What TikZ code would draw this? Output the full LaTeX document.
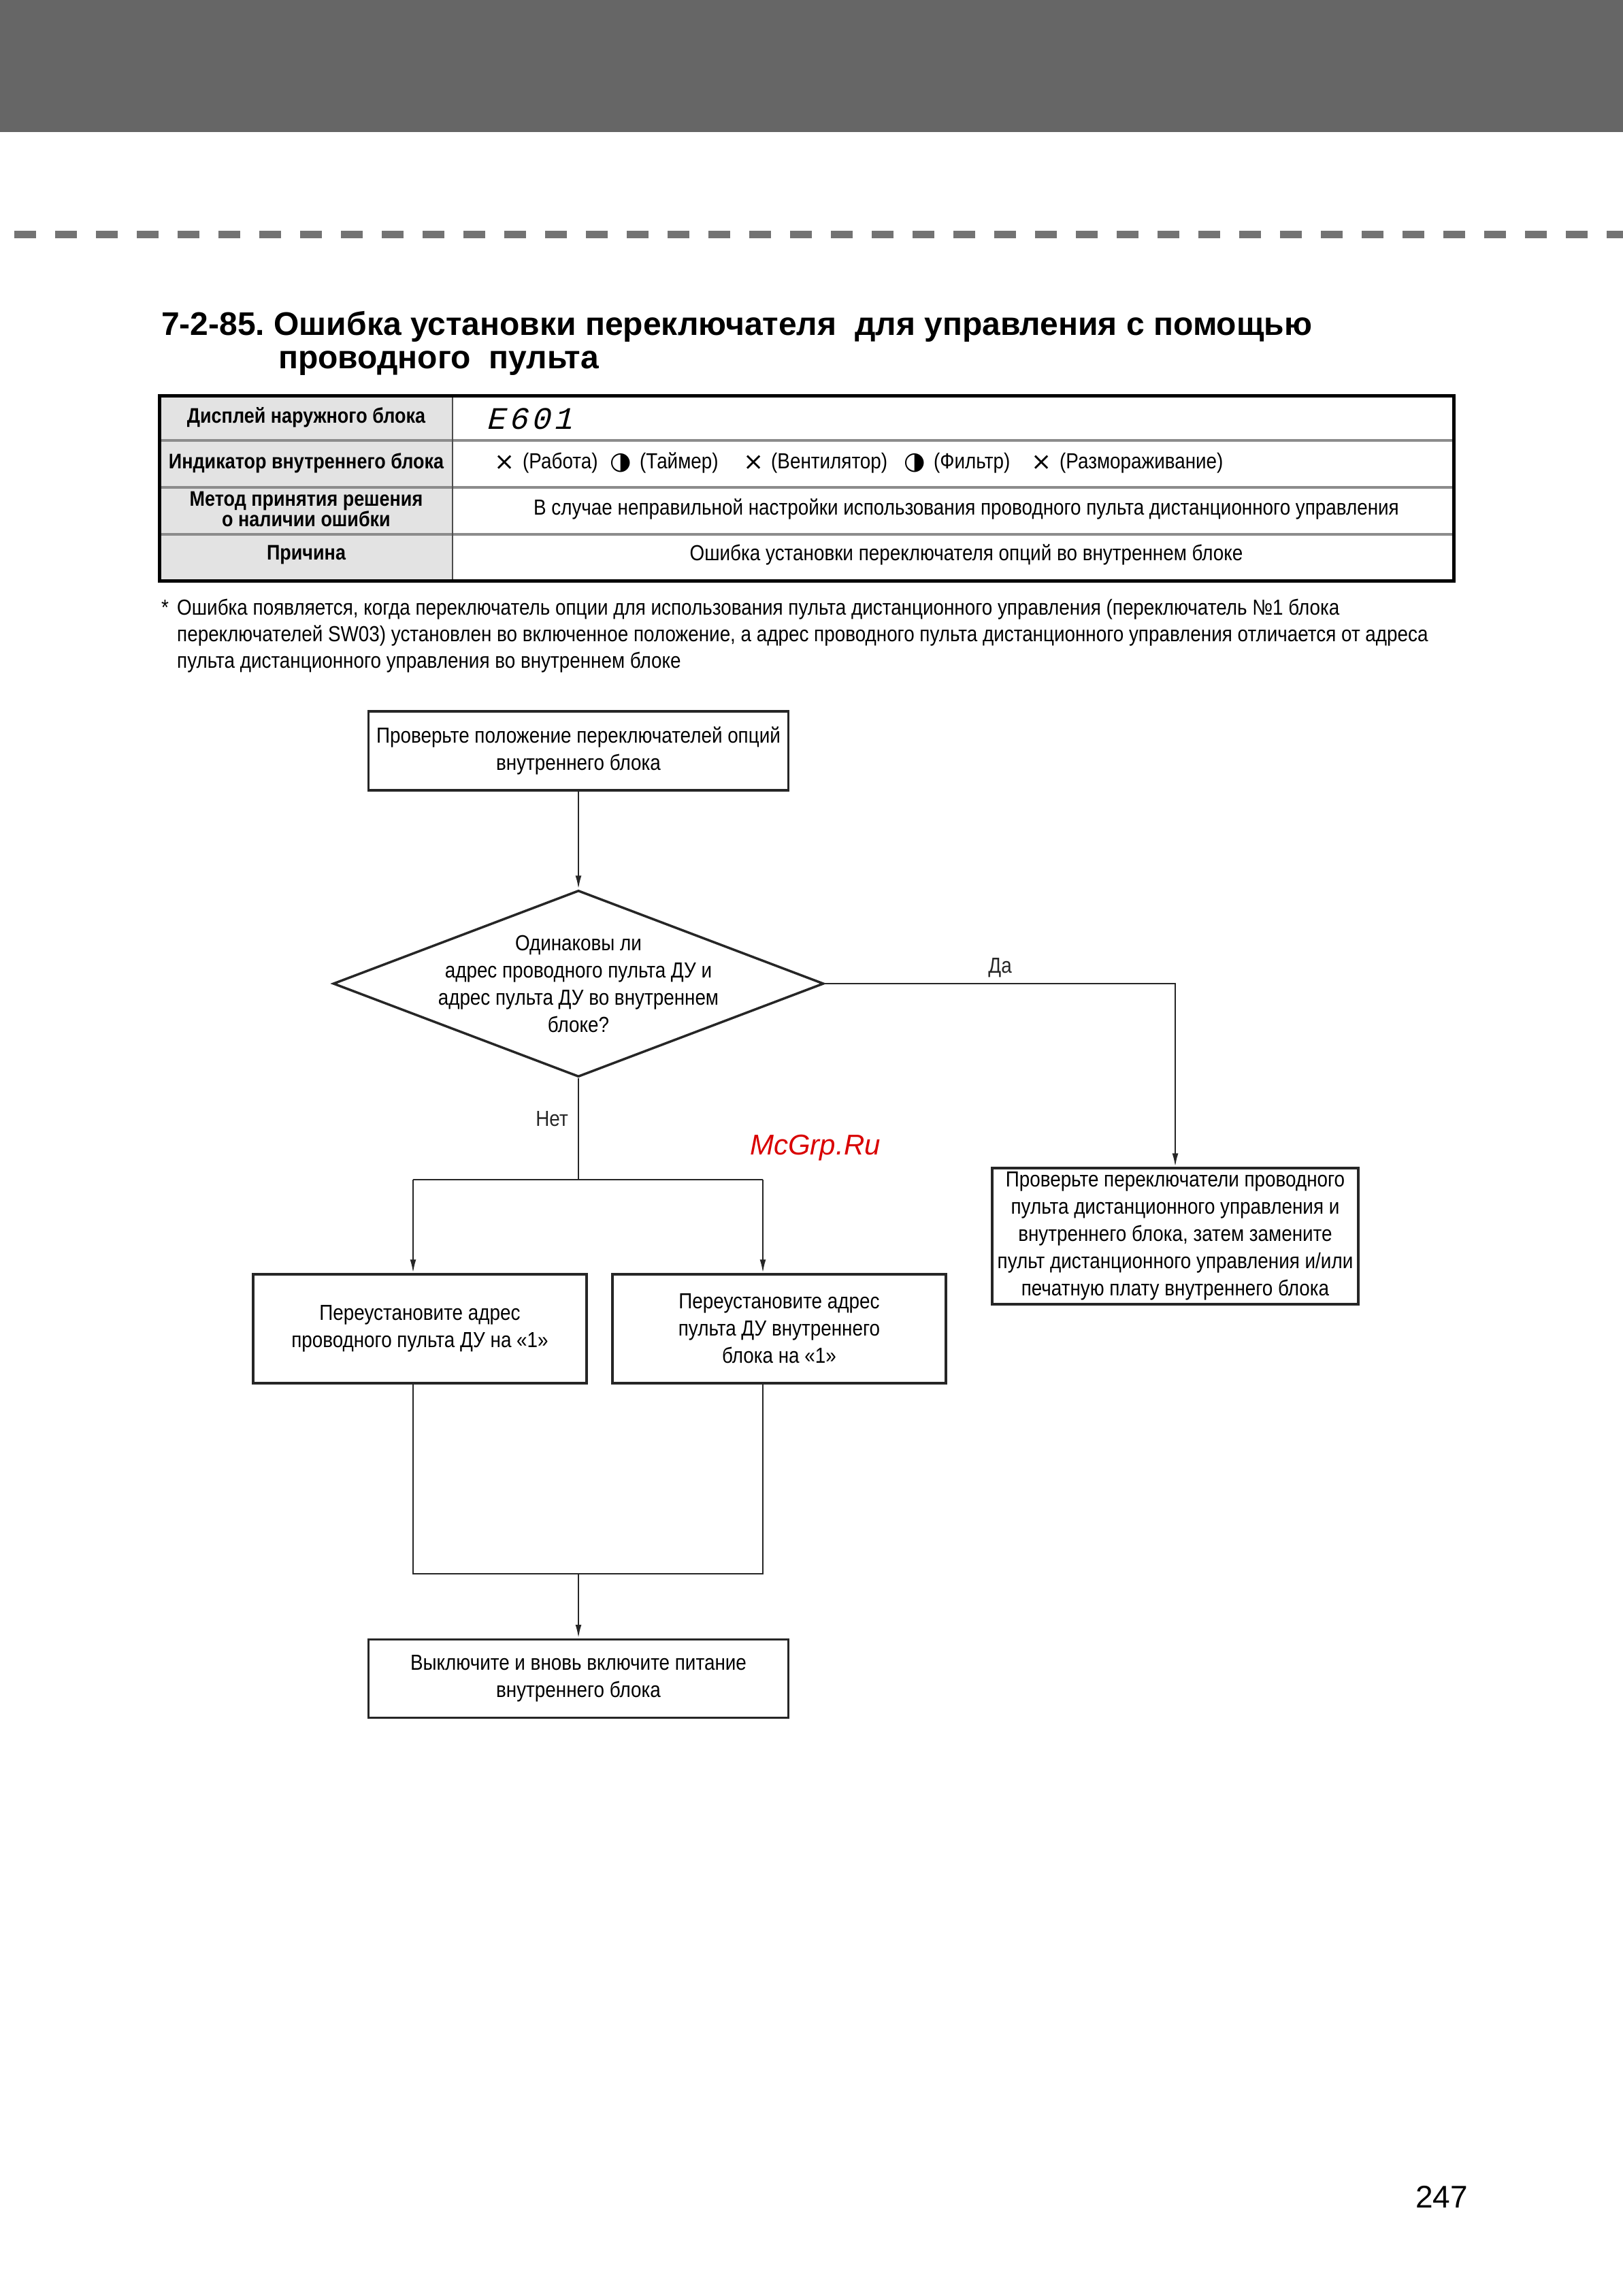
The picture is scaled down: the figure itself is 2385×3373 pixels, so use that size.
\documentclass[tikz,border=0pt]{standalone}
\usepackage{fontspec}
\setmainfont{Liberation Sans}
\newfontfamily\condfont{Liberation Sans}[FakeStretch=0.87]
\newfontfamily\symbfont{DejaVu Sans}
\newfontfamily\segfont{Liberation Mono}[FakeSlant=0.25,LetterSpace=12]
\usetikzlibrary{shapes.geometric,arrows.meta}
\frenchspacing

\tikzset{
  box/.style={draw=black!85,line width=3.5pt,rectangle,align=center,inner sep=0pt,font=\condfont\fontsize{32}{40}\selectfont},
  decision/.style={draw=black!85,line width=3.5pt,diamond,inner sep=0pt},
  conn/.style={line width=2.5pt,black!85},
  arr/.style={conn,-{Latex[length=20pt,width=9pt]}},
  lbl/.style={inner sep=0pt,font=\condfont\fontsize{32}{40}\selectfont},
  hdr/.style={align=center,inner sep=0pt,font=\condfont\bfseries\fontsize{31}{28}\selectfont},
  cell/.style={inner sep=0pt,font=\condfont\fontsize{32}{40}\selectfont},
  indsym/.style={inner sep=0pt,font=\symbfont\fontsize{36}{36}\selectfont},
  note/.style={anchor=base west,inner sep=0pt,font=\condfont\fontsize{32}{40}\selectfont},
}

\begin{document}
\begin{tikzpicture}[x=1pt,y=-1pt]
\useasboundingbox (0,0) rectangle (2385,3373);
\fill[black!60] (0,0) rectangle (2385,194);
\draw[black!55,line width=11pt,dash pattern=on 32pt off 28pt] (21,344) -- (2385,344);

\node[anchor=base west,inner sep=0pt,font=\bfseries\fontsize{48}{50}\selectfont] (title1) at (237,492) {7-2-85. Ошибка установки переключателя~ для управления с помощью};
\node[anchor=base west,inner sep=0pt,font=\bfseries\fontsize{48}{50}\selectfont] (title2) at (409,541) {проводного~ пульта};

\fill[black!11] (234,581) rectangle (665,853);
\draw[black!45,line width=4pt] (234,647) -- (2136,647);
\draw[black!45,line width=4pt] (234,716) -- (2136,716);
\draw[black!45,line width=4pt] (234,785) -- (2136,785);
\draw[black!70,line width=2.5pt] (665,581) -- (665,853);
\draw[line width=5pt] (234,581) rectangle (2136,853);

\node[hdr] (disp) at (450,613) {Дисплей наружного блока};
\node[hdr] (ind) at (450,680) {Индикатор внутреннего блока};
\node[hdr] (meth) at (450,748) {Метод принятия решения\\о наличии ошибки};
\node[hdr] (cause) at (450,815) {Причина};
\node[cell,anchor=west,font=\segfont\fontsize{46}{46}\selectfont] (code) at (714,615) {E601};
\node[indsym] (m1) at (742,680) {×};
\node[cell,anchor=west] (op1) at (768,680) {(Работа)};
\node[indsym] (m2) at (912,680) {◑};
\node[cell,anchor=west] (op2) at (940,680) {(Таймер)};
\node[indsym] (m3) at (1108,680) {×};
\node[cell,anchor=west] (op3) at (1133,680) {(Вентилятор)};
\node[indsym] (m4) at (1344,680) {◑};
\node[cell,anchor=west] (op4) at (1372,680) {(Фильтр)};
\node[indsym] (m5) at (1531,680) {×};
\node[cell,anchor=west] (op5) at (1557,680) {(Размораживание)};
\node[cell] (crit) at (1420,748) {В случае неправильной настройки использования проводного пульта дистанционного управления};
\node[cell] (why) at (1420,815) {Ошибка установки переключателя опций во внутреннем блоке};

\node[note] (star) at (237,903) {*};
\node[note] (note1) at (260,903) {Ошибка появляется, когда переключатель опции для использования пульта дистанционного управления (переключатель №1 блока};
\node[note] (note2) at (260,942) {переключателей SW03) установлен во включенное положение, а адрес проводного пульта дистанционного управления отличается от адреса};
\node[note] (note3) at (260,981) {пульта дистанционного управления во внутреннем блоке};

\node[box,minimum width=617pt,minimum height=116pt] (check) at (850,1103) {Проверьте положение переключателей опций\\внутреннего блока};
\node[decision,minimum width=721pt,minimum height=274pt,label={[lbl,align=center]center:{Одинаковы ли\\адрес проводного пульта ДУ и\\адрес пульта ДУ во внутреннем\\блоке?}}] (same) at (850,1445) {};
\node[box,minimum width=538pt,minimum height=200pt] (swap) at (1727,1816) {Проверьте переключатели проводного\\пульта дистанционного управления и\\внутреннего блока, затем замените\\пульт дистанционного управления и/или\\печатную плату внутреннего блока};
\node[box,minimum width=490pt,minimum height=160pt] (setrc) at (617,1952) {Переустановите адрес\\проводного пульта ДУ на «1»};
\node[box,minimum width=490pt,minimum height=160pt] (setin) at (1145,1952) {Переустановите адрес\\пульта ДУ внутреннего\\блока на «1»};
\node[box,minimum width=617pt,minimum height=115pt] (power) at (850,2466) {Выключите и вновь включите питание\\внутреннего блока};

\coordinate (split) at (850,1733);
\coordinate (splitl) at (607,1733);
\coordinate (splitr) at (1121,1733);
\coordinate (join) at (850,2312);
\coordinate (joinl) at (607,2312);
\coordinate (joinr) at (1121,2312);

\draw[arr] (check.south) -- (same.north);
\draw[arr] (same.east) -| node[lbl,pos=0.25,above=8pt] (yes) {Да} (swap.north);
\draw[conn] (same.south) -- node[lbl,pos=0.4,left=14pt] (no) {Нет} (split);
\draw[conn] (splitl) -- (splitr);
\draw[arr] (splitl) -- (splitl |- setrc.north);
\draw[arr] (splitr) -- (splitr |- setin.north);
\draw[conn] (splitl |- setrc.south) -- (joinl) -- (joinr) -- (splitr |- setin.south);
\draw[arr] (join) -- (power.north);

\node[text=red!85!black,inner sep=0pt,font=\itshape\fontsize{42}{42}\selectfont] (mcgrp) at (1198,1686) {McGrp.Ru};
\node[anchor=base east,inner sep=0pt,font=\fontsize{46}{46}\selectfont] (page) at (2157,3243) {247};
\end{tikzpicture}
\end{document}
